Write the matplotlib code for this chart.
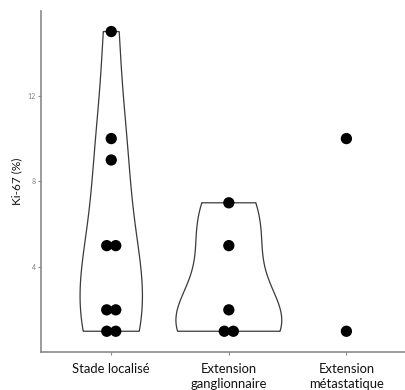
import numpy as np
import matplotlib
matplotlib.use("Agg")
import matplotlib.pyplot as plt

# Ki-67 index (%) per disease stage
groups = ["Stade localisé", "Extension\nganglionnaire", "Extension\nmétastatique"]
ki67_localise = [15, 10, 9, 5, 5, 2, 2, 1, 1]
ki67_ganglion = [7, 5, 2, 1, 1]
ki67_metastat = [10, 1]
series = [ki67_localise, ki67_ganglion, ki67_metastat]
y_ticks = [4, 8, 12]

plt.rcParams["font.family"] = ["Lato", "DejaVu Sans"]


def bw_nrd0(x):
    x = np.asarray(x, float)
    sd = x.std(ddof=1)
    q1, q3 = np.percentile(x, [25, 75])
    lo = min(sd, (q3 - q1) / 1.34)
    return 0.9 * lo * len(x) ** -0.2


def kde(x, grid):
    x = np.asarray(x, float)
    bw = bw_nrd0(x)
    z = (grid[:, None] - x[None, :]) / bw
    return np.exp(-0.5 * z ** 2).sum(axis=1) / (len(x) * bw * np.sqrt(2 * np.pi))


fig = plt.figure(figsize=(4.05, 3.9), dpi=100)
ax = fig.add_axes([0.1005, 0.0974, 0.929, 0.8744])

# violins (trimmed to the data range, areas scaled to a common maximum width)
dens = []
for vals in series:
    if len(vals) < 3:
        dens.append(None)
        continue
    grid = np.linspace(min(vals), max(vals), 512)
    dens.append((grid, kde(vals, grid)))
dmax = max(d[1].max() for d in dens if d is not None)
width = 0.9
for i, d in enumerate(dens):
    if d is None:
        continue
    grid, dd = d
    half = dd / dmax * width / 2
    xs = np.concatenate([i + 1 - half, (i + 1 + half)[::-1]])
    ys = np.concatenate([grid, grid[::-1]])
    ax.fill(xs, ys, facecolor="white", edgecolor="#3a3a3a", linewidth=0.9, zorder=2)

# centred dot stacks
dot_step = 0.077
for i, vals in enumerate(series):
    uniq, counts = np.unique(vals, return_counts=True)
    for v, k in zip(uniq, counts):
        offs = (np.arange(k) - (k - 1) / 2) * dot_step
        ax.scatter(i + 1 + offs, np.full(k, v), s=66, color="black",
                   edgecolors="none", zorder=3)

ax.set_xlim(0.4, 3.6)
ax.set_ylim(0.03, 15.96)
ax.set_xticks([1, 2, 3])
ax.set_xticklabels(groups, fontsize=9.4, color="#111111", linespacing=1.25)
ax.set_yticks(y_ticks)
ax.set_yticklabels([str(t) for t in y_ticks], fontsize=5, color="#808080")
ax.tick_params(axis="both", length=2.2, width=0.8, color="#8a8a8a")
ax.tick_params(axis="x", pad=6)
ax.tick_params(axis="y", pad=1.5)
ax.set_ylabel("Ki-67 (%)", fontsize=8.5, color="#111111", labelpad=4)

for side in ("top", "right"):
    ax.spines[side].set_visible(False)
for side in ("left", "bottom"):
    ax.spines[side].set_color("#8a8a8a")
    ax.spines[side].set_linewidth(1.2)

fig.savefig("out.png", dpi=100, facecolor="white")
